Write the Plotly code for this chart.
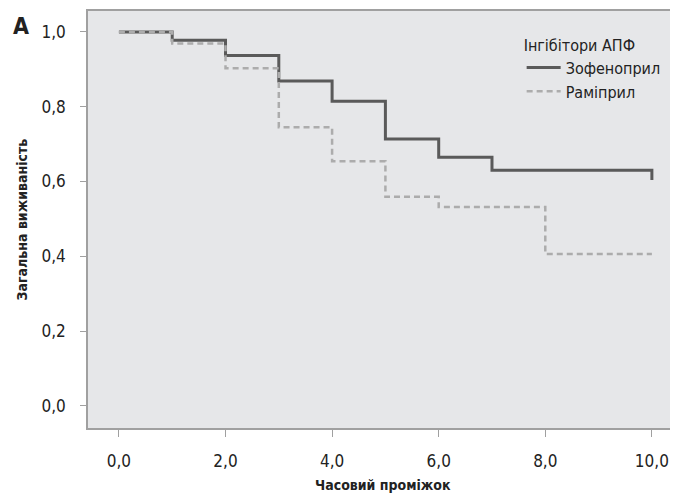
import plotly.graph_objects as go

# Data (Kaplan-Meier style steps)
zof_time = [0, 1, 2, 3, 4, 5, 6, 7, 10]
zof_surv = [1.0, 0.978, 0.937, 0.869, 0.815, 0.714, 0.665, 0.630, 0.604]
ram_time = [0, 1, 2, 3, 4, 5, 6, 8, 10]
ram_surv = [1.0, 0.969, 0.903, 0.745, 0.654, 0.559, 0.532, 0.406, 0.406]
series_names = ["Зофеноприл", "Раміприл"]
x_ticks = [0, 2, 4, 6, 8, 10]
x_tick_labels = ["0,0", "2,0", "4,0", "6,0", "8,0", "10,0"]
y_ticks = [0, 0.2, 0.4, 0.6, 0.8, 1.0]
y_tick_labels = ["0,0", "0,2", "0,4", "0,6", "0,8", "1,0"]

FONT = "Liberation Sans Narrow, DejaVu Sans Condensed, Arial Narrow, sans-serif"
AXIS_COLOR = "#a0a0a0"

fig = go.Figure()
fig.add_trace(go.Scatter(
    x=zof_time, y=zof_surv, name=series_names[0], mode="lines",
    line=dict(shape="hv", color="#5a5a5a", width=3),
))
fig.add_trace(go.Scatter(
    x=ram_time, y=ram_surv, name=series_names[1], mode="lines",
    line=dict(shape="hv", color="#acacac", width=2.5, dash="6px,4px"),
))

# page body has an 8px default margin; compensate so the plot lands where the reference has it
fig.update_layout(
    width=670, height=485,
    margin=dict(l=80, r=0, t=3, b=65),
    paper_bgcolor="white",
    plot_bgcolor="#e6e7e9",
    font=dict(family=FONT, size=17, color="#222222"),
    showlegend=True,
    legend=dict(
        title=dict(text="Інгібітори АПФ", font=dict(size=16)),
        x=0.735, xanchor="left", y=0.955, yanchor="top",
        bgcolor="rgba(0,0,0,0)", font=dict(size=16),
        tracegroupgap=0, itemwidth=34,
    ),
    xaxis=dict(
        range=[-0.58, 10.49], tickvals=x_ticks, ticktext=x_tick_labels,
        showgrid=False, zeroline=False, showline=True, linecolor=AXIS_COLOR,
        linewidth=1.5, mirror=True,
        ticks="outside", ticklen=7, tickcolor=AXIS_COLOR, tickwidth=1,
        ticklabelstandoff=10,
    ),
    yaxis=dict(
        range=[-0.059, 1.056], tickvals=y_ticks, ticktext=y_tick_labels,
        showgrid=False, zeroline=False, showline=True, linecolor=AXIS_COLOR,
        linewidth=1.5,
        ticks="outside", ticklen=6, tickcolor=AXIS_COLOR, tickwidth=1,
        ticklabelstandoff=11,
    ),
    annotations=[
        dict(text="<b>Часовий проміжок</b>", xref="paper", yref="paper",
             x=0.5, y=-0.137, xanchor="center", yanchor="middle",
             showarrow=False, font=dict(size=14, family=FONT)),
        dict(text="<b>Загальна виживаність</b>", xref="paper", yref="paper",
             x=-0.112, y=0.5, xanchor="center", yanchor="middle", textangle=-90,
             showarrow=False, font=dict(size=14, family=FONT)),
        dict(text="<b>A</b>", xref="paper", yref="paper",
             x=-0.1136, y=0.965, xanchor="center", yanchor="middle",
             showarrow=False, font=dict(size=23, family=FONT)),
    ],
)

fig.write_html("out.html")
